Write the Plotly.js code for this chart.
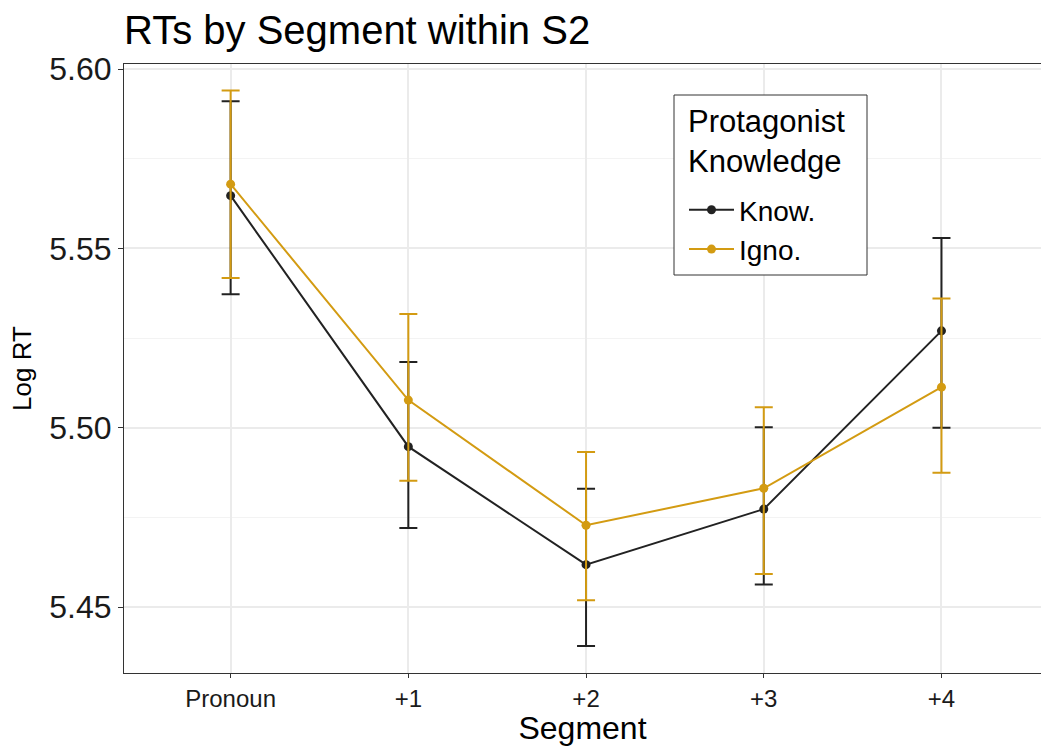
<!DOCTYPE html>
<html>
<head>
<meta charset="utf-8">
<script src="https://cdn.plot.ly/plotly-3.0.1.min.js"></script>
<style>html,body{margin:0;padding:0;background:#fff;}#chart{width:1041px;height:746px;}</style>
</head>
<body>
<div id="chart"></div>
<script>
const segments = ['Pronoun', '+1', '+2', '+3', '+4'];
const knowMean  = [5.5647, 5.4947, 5.4618, 5.4773, 5.5270];
const knowUpper = [5.5910, 5.5183, 5.4830, 5.5001, 5.5529];
const knowLower = [5.5372, 5.4720, 5.4391, 5.4563, 5.5000];
const ignoMean  = [5.5679, 5.5077, 5.4728, 5.4831, 5.5113];
const ignoUpper = [5.5940, 5.5317, 5.4932, 5.5057, 5.5360];
const ignoLower = [5.5417, 5.4852, 5.4519, 5.4592, 5.4874];
const yTicks = [5.45, 5.50, 5.55, 5.60];
const yTickText = ['5.45', '5.50', '5.55', '5.60'];
const legendTitle = 'Protagonist<br>Knowledge';

const FONT = 'Liberation Sans, Arial, sans-serif';
const KNOW_COLOR = '#222222';
const IGNO_COLOR = '#D39B12';

function trace(name, mean, upper, lower, color) {
  return {
    type: 'scatter', mode: 'lines+markers', name: name,
    x: segments, y: mean,
    line: {color: color, width: 2},
    marker: {color: color, size: 9},
    error_y: {
      type: 'data', symmetric: false,
      array: upper.map((u, i) => u - mean[i]),
      arrayminus: lower.map((l, i) => mean[i] - l),
      color: color, thickness: 2, width: 9
    }
  };
}

const data = [
  trace('Know.', knowMean, knowUpper, knowLower, KNOW_COLOR),
  trace('Igno.', ignoMean, ignoUpper, ignoLower, IGNO_COLOR)
];

// plot area in pixels: x 124..1041, y 64..673
const PX = v => (v - 124) / 917;
const PY = v => (673 - v) / 609;

const layout = {
  width: 1041, height: 746,
  margin: {l: 124, r: 0, t: 64, b: 73},
  paper_bgcolor: '#ffffff', plot_bgcolor: '#ffffff',
  font: {family: FONT, color: '#000'},
  title: {text: 'RTs by Segment within S2', font: {size: 40, family: FONT, color: '#000'},
          x: 124/1041, xref: 'container', xanchor: 'left', y: 1 - 30/746, yref: 'container', yanchor: 'middle'},
  xaxis: {
    type: 'category', categoryorder: 'array', categoryarray: segments,
    range: [-0.6, 4.56],
    showgrid: true, gridcolor: '#EBEBEB', gridwidth: 2,
    showline: true, linecolor: '#333333', linewidth: 1, mirror: true,
    ticks: 'outside', ticklen: 4, tickcolor: '#333333', tickwidth: 1,
    tickfont: {size: 24, family: FONT, color: '#1a1a1a'},
    title: {text: 'Segment', font: {size: 32, family: FONT, color: '#000'}, standoff: 6},
    zeroline: false
  },
  yaxis: {
    range: [5.4316, 5.6014],
    tickvals: yTicks, ticktext: yTickText,
    showgrid: true, gridcolor: '#EBEBEB', gridwidth: 2,
    minor: {tickvals: [5.475, 5.525, 5.575], showgrid: true, gridcolor: '#F3F3F3', gridwidth: 1, ticks: ''},
    showline: true, linecolor: '#333333', linewidth: 1, mirror: true,
    ticks: 'outside', ticklen: 5, tickcolor: '#333333', tickwidth: 1,
    tickfont: {size: 32, family: FONT, color: '#1a1a1a'},
    title: {text: 'Log RT', font: {size: 26, family: FONT, color: '#000'}, standoff: 10},
    zeroline: false
  },
  shapes: [{
    type: 'rect', xref: 'paper', yref: 'paper', layer: 'above',
    x0: PX(674), x1: PX(867), y0: PY(275), y1: PY(95),
    line: {color: '#333333', width: 1}, fillcolor: '#ffffff'
  }],
  annotations: [{
    text: legendTitle, xref: 'paper', yref: 'paper', showarrow: false,
    x: PX(686), y: PY(142), xanchor: 'left', yanchor: 'middle', align: 'left',
    font: {size: 31, family: FONT, color: '#000'}
  }],
  showlegend: true,
  legend: {
    x: PX(684), y: PY(185), xanchor: 'left', yanchor: 'top',
    bgcolor: 'rgba(0,0,0,0)', borderwidth: 0,
    font: {size: 28, family: FONT, color: '#000'},
    itemwidth: 45, tracegroupgap: 0
  }
};

Plotly.newPlot('chart', data, layout, {displayModeBar: false, staticPlot: true});
</script>
</body>
</html>
